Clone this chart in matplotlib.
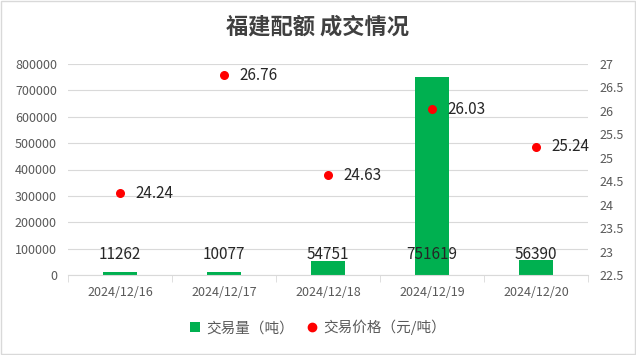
import matplotlib
matplotlib.use("Agg")
import matplotlib.pyplot as plt
from matplotlib.ticker import FuncFormatter, MultipleLocator, FixedLocator
from matplotlib.lines import Line2D
from matplotlib.patches import Patch

plt.rcParams['font.family'] = ['Noto Sans CJK SC', 'DejaVu Sans']

dates = ["2024/12/16", "2024/12/17", "2024/12/18", "2024/12/19", "2024/12/20"]
volume = [11262, 10077, 54751, 751619, 56390]
price = [24.24, 26.76, 24.63, 26.03, 25.24]
title = "福建配额 成交情况"
vol_label = "交易量（吨）"
price_label = "交易价格（元/吨）"

green = "#00b050"
red = "#ff0000"
grid_c = "#d9d9d9"
txt_c = "#595959"

fig = plt.figure(figsize=(6.36, 3.55), dpi=100)
ax = fig.add_axes([68/636, 80/355, 520/636, 211/355])
x = list(range(len(dates)))
ax.bar(x, volume, width=0.32, color=green, zorder=2)
ax.set_xlim(-0.5, len(dates) - 0.5)
ax.set_ylim(0, 800000)
ax.yaxis.set_major_locator(MultipleLocator(100000))
ax.yaxis.set_major_formatter(FuncFormatter(lambda v, p: f"{int(v)}"))
ax.grid(axis='y', color=grid_c, linewidth=0.8, zorder=0)
ax.set_axisbelow(True)
for s in ['left', 'right', 'top']:
    ax.spines[s].set_visible(False)
ax.spines['bottom'].set_color(grid_c)
ax.tick_params(axis='y', length=0, labelsize=9, colors=txt_c, pad=8)
ax.set_xticks(x)
ax.set_xticklabels(dates)
ax.tick_params(axis='x', length=0, labelsize=9, colors=txt_c, pad=8)
ax.xaxis.set_minor_locator(FixedLocator([i - 0.5 for i in range(len(dates) + 1)]))
ax.tick_params(axis='x', which='minor', length=5, color=grid_c)

for xi, v in zip(x, volume):
    ax.text(xi, 76000, f"{v}", ha='center', va='center', fontsize=11,
            color='#262626', zorder=5)

ax2 = ax.twinx()
ax2.set_ylim(22.5, 27)
ax2.yaxis.set_major_locator(MultipleLocator(0.5))
ax2.yaxis.set_major_formatter(FuncFormatter(lambda v, p: f"{v:g}"))
for s in ['left', 'right', 'top', 'bottom']:
    ax2.spines[s].set_visible(False)
ax2.tick_params(axis='y', length=0, labelsize=9, colors=txt_c, pad=8)
ax2.scatter(x, price, s=30, color=red, zorder=4)
for xi, p in zip(x, price):
    ax2.annotate(f"{p:.2f}", (xi, p), xytext=(11, 0), textcoords='offset points',
                 ha='left', va='center', fontsize=11, color='#262626')

fig.text(0.5, 0.925, title, ha='center', va='center', fontsize=16,
         color='#404040', fontweight='bold')

handles = [Patch(facecolor=green, edgecolor='none', label=vol_label),
           Line2D([], [], marker='o', linestyle='none', color=red, markersize=6,
                  label=price_label)]
fig.legend(handles=handles, loc='center', bbox_to_anchor=(0.5, 0.077), ncol=2,
           frameon=False, fontsize=10.5, handlelength=0.7, handletextpad=0.4,
           columnspacing=0.9, labelcolor=txt_c)

fig.patches.append(plt.Rectangle((0.001, 0.002), 0.997, 0.995, transform=fig.transFigure,
                                 fill=False, edgecolor=grid_c, linewidth=1))
fig.savefig("out.png", dpi=100)
